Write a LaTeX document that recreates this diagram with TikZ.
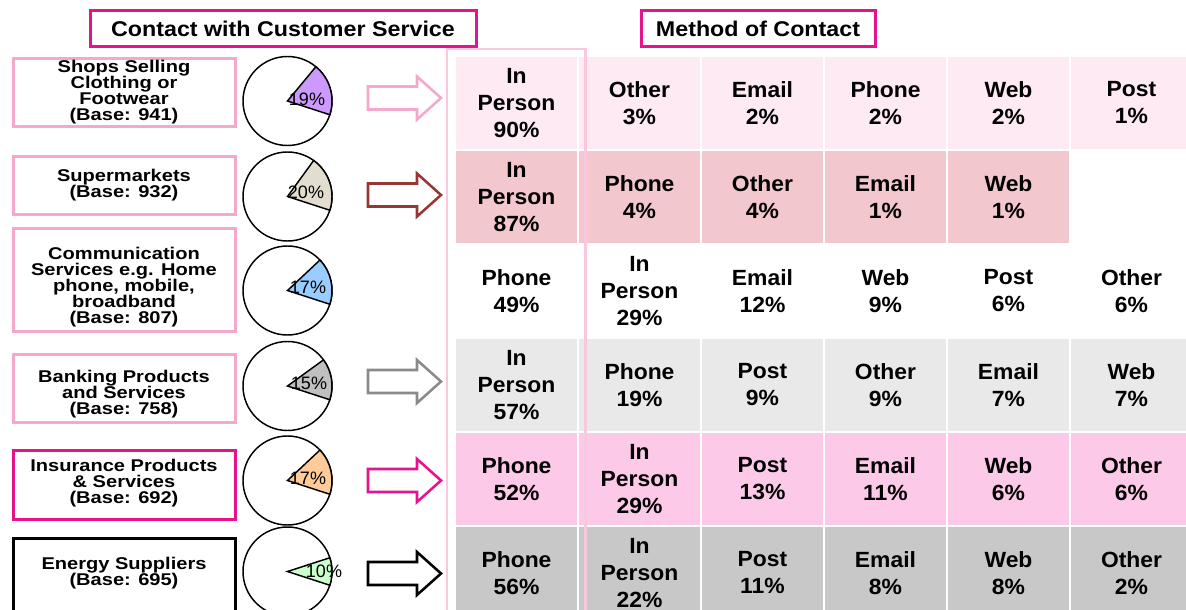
\documentclass[tikz,border=0pt]{standalone}
\usepackage{fontspec}
\setmainfont{Liberation Sans}
\newfontfamily\boxfont[FakeStretch=1.18]{Liberation Sans}
\newfontfamily\ttlfont[FakeStretch=1.09]{Liberation Sans}
\newfontfamily\cellfont[FakeStretch=1.04]{Liberation Sans}
\definecolor{mg}{HTML}{E6148C}
\definecolor{lp}{HTML}{F4A8CB}
\definecolor{colpink}{HTML}{F9C8DF}
\definecolor{darkred}{HTML}{953735}
\definecolor{arrgray}{HTML}{8A8A8A}
\definecolor{rowa}{HTML}{FDEAF2}
\definecolor{rowb}{HTML}{F2C7CE}
\definecolor{rowd}{HTML}{E9E9E9}
\definecolor{rowe}{HTML}{FCCAE8}
\definecolor{rowf}{HTML}{C8C8C8}
\definecolor{pca}{HTML}{CC99FF}
\definecolor{pcb}{HTML}{E3DDD0}
\definecolor{pcc}{HTML}{99CCFF}
\definecolor{pcd}{HTML}{C0C0C0}
\definecolor{pce}{HTML}{FFCC99}
\definecolor{pcf}{HTML}{CCFFCC}
\newcommand\mycell[5]{\node[cellbox, fill=#4] (#1) at ({456+123*(#2-1)+60.5},{57+94*(#3-1)+46}) {#5};}
\newcommand\mypie[5]{%
  \draw[pieline, fill=white] (#1) circle[radius=44.5];
  \filldraw[pieline, fill=#3] (#1) -- +(18:44.5) arc[start angle=18, end angle={18-#2*3.6}, radius=44.5] -- cycle;
  \node[pielabel] (#4) at #5 {#2\%};}
\newcommand\myarrow[2]{%
  \draw[blkarrow, draw=#2] (368,#1-11.5) -- (417,#1-11.5) -- (417,#1-21.5) -- (441,#1) -- (417,#1+21.5) -- (417,#1+11.5) -- (368,#1+11.5) -- cycle;}
\begin{document}
\begin{tikzpicture}[x=0.75pt,y=-0.75pt,
  cellbox/.style={minimum width=90.75pt, minimum height=69pt, inner sep=0pt, align=center,
    font=\cellfont\bfseries\fontsize{16.5}{20.25}\selectfont},
  lbox/.style={draw=lp, line width=2.25pt, minimum width=166.5pt, inner sep=0pt},
  ltext/.style={align=center, inner sep=0pt, font=\boxfont\bfseries\fontsize{12.75}{12}\selectfont},
  ttl/.style={draw=mg, line width=2.25pt, inner sep=0pt, minimum height=27pt,
    font=\ttlfont\bfseries\fontsize{16}{19}\selectfont},
  pieline/.style={draw=black, line width=1.1pt},
  pielabel/.style={inner sep=0pt, font=\fontsize{13.5}{16}\selectfont},
  blkarrow/.style={line width=1.9pt, fill=white, line join=miter}]
\useasboundingbox (0,0) rectangle (1186,610);
\clip (0,0) rectangle (1186,610);
% table cells
\mycell{c11}{1}{1}{rowa}{In\\Person\\90\%}
\mycell{c12}{2}{1}{rowa}{Other\\3\%}
\mycell{c13}{3}{1}{rowa}{Email\\2\%}
\mycell{c14}{4}{1}{rowa}{Phone\\2\%}
\mycell{c15}{5}{1}{rowa}{Web\\2\%}
\mycell{c16}{6}{1}{rowa}{Post\\1\%}
\mycell{c21}{1}{2}{rowb}{In\\Person\\87\%}
\mycell{c22}{2}{2}{rowb}{Phone\\4\%}
\mycell{c23}{3}{2}{rowb}{Other\\4\%}
\mycell{c24}{4}{2}{rowb}{Email\\1\%}
\mycell{c25}{5}{2}{rowb}{Web\\1\%}
\mycell{c31}{1}{3}{white}{Phone\\49\%}
\mycell{c32}{2}{3}{white}{In\\Person\\29\%}
\mycell{c33}{3}{3}{white}{Email\\12\%}
\mycell{c34}{4}{3}{white}{Web\\9\%}
\mycell{c35}{5}{3}{white}{Post\\6\%}
\mycell{c36}{6}{3}{white}{Other\\6\%}
\mycell{c41}{1}{4}{rowd}{In\\Person\\57\%}
\mycell{c42}{2}{4}{rowd}{Phone\\19\%}
\mycell{c43}{3}{4}{rowd}{Post\\9\%}
\mycell{c44}{4}{4}{rowd}{Other\\9\%}
\mycell{c45}{5}{4}{rowd}{Email\\7\%}
\mycell{c46}{6}{4}{rowd}{Web\\7\%}
\mycell{c51}{1}{5}{rowe}{Phone\\52\%}
\mycell{c52}{2}{5}{rowe}{In\\Person\\29\%}
\mycell{c53}{3}{5}{rowe}{Post\\13\%}
\mycell{c54}{4}{5}{rowe}{Email\\11\%}
\mycell{c55}{5}{5}{rowe}{Web\\6\%}
\mycell{c56}{6}{5}{rowe}{Other\\6\%}
\mycell{c61}{1}{6}{rowf}{Phone\\56\%}
\mycell{c62}{2}{6}{rowf}{In\\Person\\22\%}
\mycell{c63}{3}{6}{rowf}{Post\\11\%}
\mycell{c64}{4}{6}{rowf}{Email\\8\%}
\mycell{c65}{5}{6}{rowf}{Web\\8\%}
\mycell{c66}{6}{6}{rowf}{Other\\2\%}
% first-column outline
\draw[colpink, line width=2.2pt] (447,49) rectangle (585.5,640);
% titles
\node[ttl, minimum width=289.5pt] (t1) at (283,29) {Contact with Customer Service};
\node[ttl, minimum width=175.5pt] (t2) at (758,29) {Method of Contact};
% left boxes
\node[lbox, minimum height=51pt] (b1) at (124,92.5) {};
\node[lbox, minimum height=43.5pt] (b2) at (124,185.5) {};
\node[lbox, minimum height=77.25pt] (b3) at (124,280) {};
\node[lbox, minimum height=51pt] (b4) at (124,388.5) {};
\node[lbox, draw=mg, minimum height=51.75pt] (b5) at (124,485) {};
\node[lbox, draw=black, minimum height=61.1pt] (b6) at (124,579.25) {};
\node[ltext] (l1) at (124,92) {Shops Selling\\Clothing or\\Footwear\\(Base: 941)};
\node[ltext] (l2) at (124,185.5) {Supermarkets\\(Base: 932)};
\node[ltext] (l3) at (124,287.5) {Communication\\Services e.g. Home\\phone, mobile,\\broadband\\(Base: 807)};
\node[ltext] (l4) at (124,394.5) {Banking Products\\and Services\\(Base: 758)};
\node[ltext] (l5) at (124,483.5) {Insurance Products\\\& Services\\(Base: 692)};
\node[ltext] (l6) at (124,573) {Energy Suppliers\\(Base: 695)};
% pies
\coordinate (pc1) at (287.5,101);
\coordinate (pc2) at (287.5,196.5);
\coordinate (pc3) at (287.5,290.5);
\coordinate (pc4) at (287.5,386);
\coordinate (pc5) at (287.5,480.5);
\coordinate (pc6) at (287.5,571.5);
\mypie{pc1}{19}{pca}{pl1}{(307,99.5)}
\mypie{pc2}{20}{pcb}{pl2}{(306,192)}
\mypie{pc3}{17}{pcc}{pl3}{(308,287)}
\mypie{pc4}{15}{pcd}{pl4}{(309,383)}
\mypie{pc5}{17}{pce}{pl5}{(308,478)}
\mypie{pc6}{10}{pcf}{pl6}{(324,571)}
% block arrows
\myarrow{98}{lp}
\myarrow{195}{darkred}
\myarrow{381.5}{arrgray}
\myarrow{480.5}{mg}
\myarrow{573.5}{black}
\end{tikzpicture}
\end{document}
